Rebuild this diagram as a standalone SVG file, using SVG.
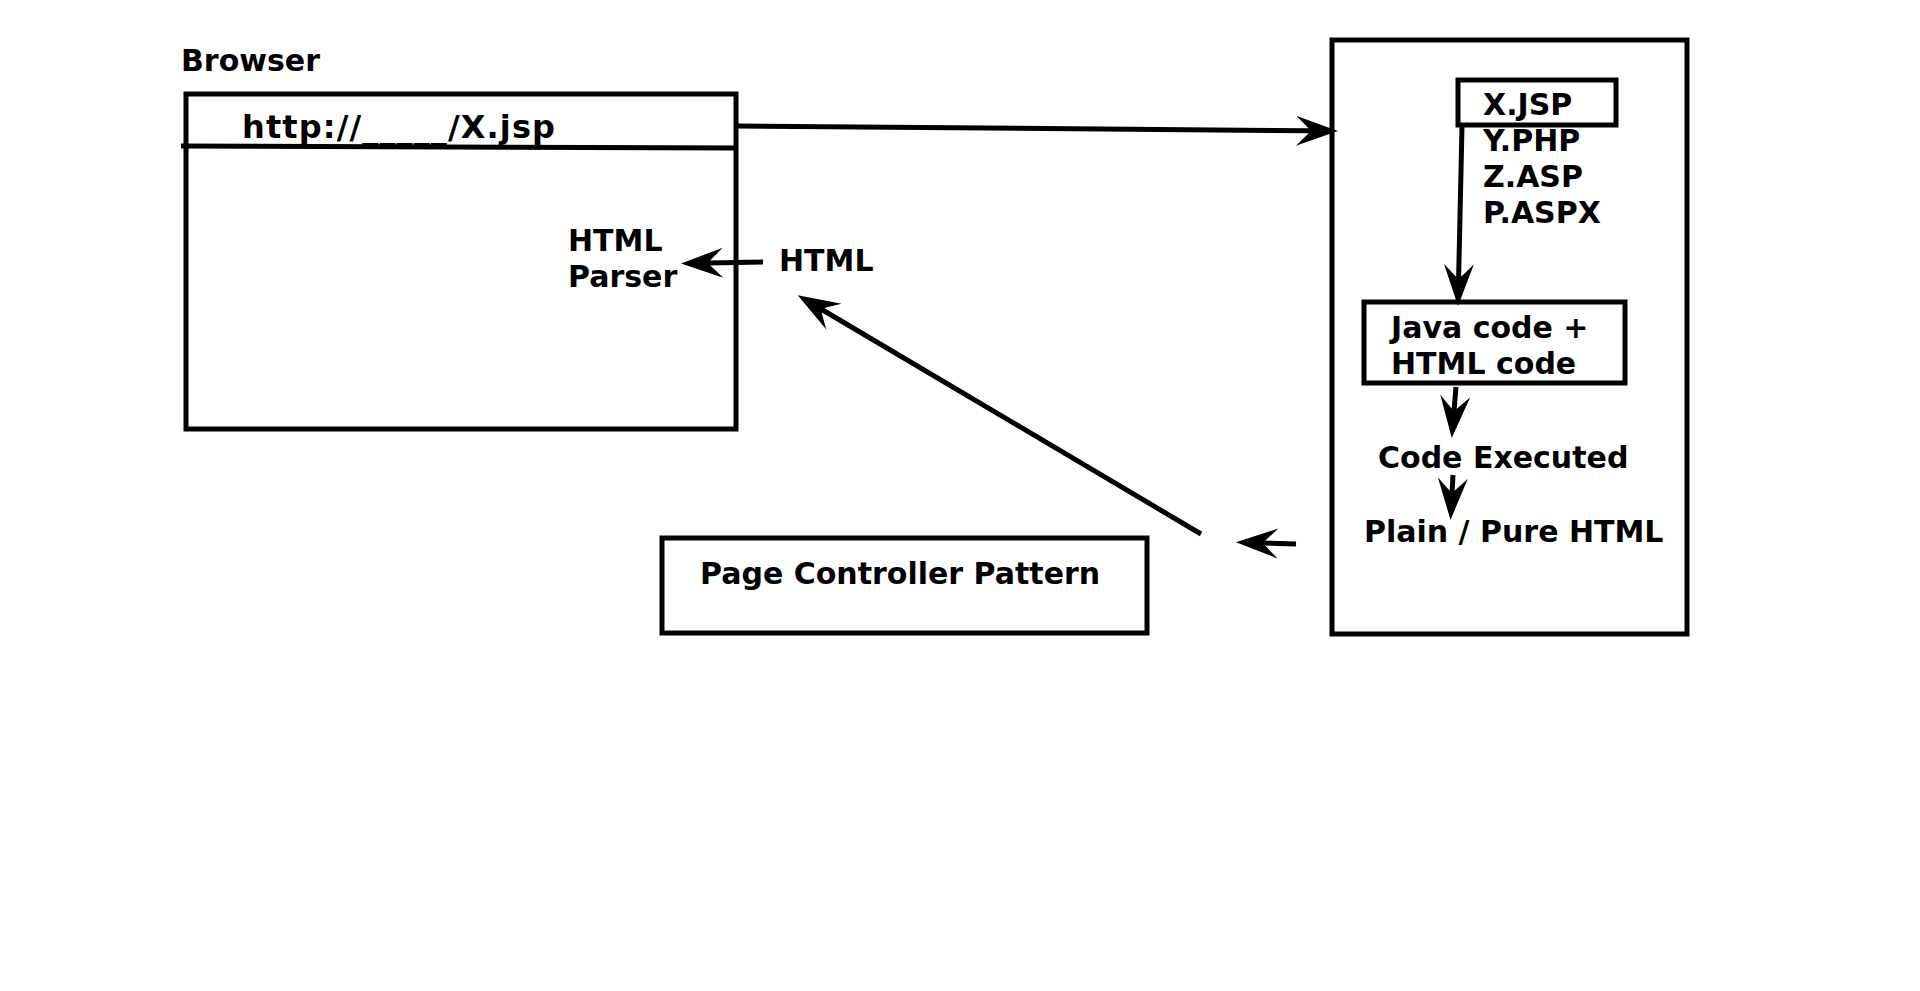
<svg xmlns="http://www.w3.org/2000/svg" width="1920" height="991" viewBox="0 0 1920 991">
<style>
.t{font-family:"DejaVu Sans","Liberation Sans",sans-serif;font-weight:bold;font-size:30px;fill:#000}
.box{fill:none;stroke:#000;stroke-width:5}
.ln{fill:none;stroke:#000;stroke-width:5}
.ar{fill:none;stroke:#000;stroke-width:5;marker-end:url(#ah)}
</style>
<defs>
<marker id="ah" markerUnits="userSpaceOnUse" markerWidth="60" markerHeight="40" refX="0" refY="0" orient="auto" overflow="visible">
<path d="M27,0 L-15,-15 Q-3,-3.5 0,0 Q-3,3.5 -15,15 Z" fill="#000"/>
</marker>
</defs>
<rect width="1920" height="991" fill="#fff"/>
<g id="browser">
<text class="t" x="181" y="71">Browser</text>
<rect class="box" x="186" y="94" width="550" height="335"/>
<line class="ln" x1="181" y1="146" x2="738" y2="148"/>
<text class="t" x="242" y="138" style="font-size:32px" textLength="313" lengthAdjust="spacing">http://_____/X.jsp</text>
<text class="t" x="568" y="251">HTML</text>
<text class="t" x="568" y="287">Parser</text>
</g>
<g id="html-label">
<text class="t" x="779" y="271">HTML</text>
</g>
<g id="server">
<rect class="box" x="1332" y="40" width="355" height="594"/>
</g>
<g id="files">
<rect class="box" x="1458" y="80" width="158" height="45"/>
<text class="t" x="1483" y="115">X.JSP</text>
<text class="t" x="1483" y="151">Y.PHP</text>
<text class="t" x="1483" y="187">Z.ASP</text>
<text class="t" x="1483" y="223">P.ASPX</text>
</g>
<g id="java">
<rect class="box" x="1364" y="302" width="261" height="81"/>
<text class="t" x="1391" y="338">Java code +</text>
<text class="t" x="1391" y="374">HTML code</text>
</g>
<g id="executed">
<text class="t" x="1378" y="468">Code Executed</text>
</g>
<g id="plain">
<text class="t" x="1364" y="542">Plain / Pure HTML</text>
</g>
<g id="page-controller">
<rect class="box" x="662" y="538" width="485" height="95"/>
<text class="t" x="700" y="584">Page Controller Pattern</text>
</g>
<g id="connectors">
<line class="ar" x1="738" y1="126" x2="1311" y2="130.8"/>
<line class="ar" x1="763" y1="262" x2="708" y2="263"/>
<line class="ar" x1="1462" y1="126" x2="1458.6" y2="279"/>
<line class="ar" x1="1456" y1="387" x2="1454" y2="411"/>
<line class="ar" x1="1453" y1="475" x2="1452" y2="493"/>
<line class="ar" x1="1296" y1="544" x2="1263" y2="543"/>
<line class="ar" x1="1201" y1="534" x2="821" y2="309"/>
</g>
</svg>
